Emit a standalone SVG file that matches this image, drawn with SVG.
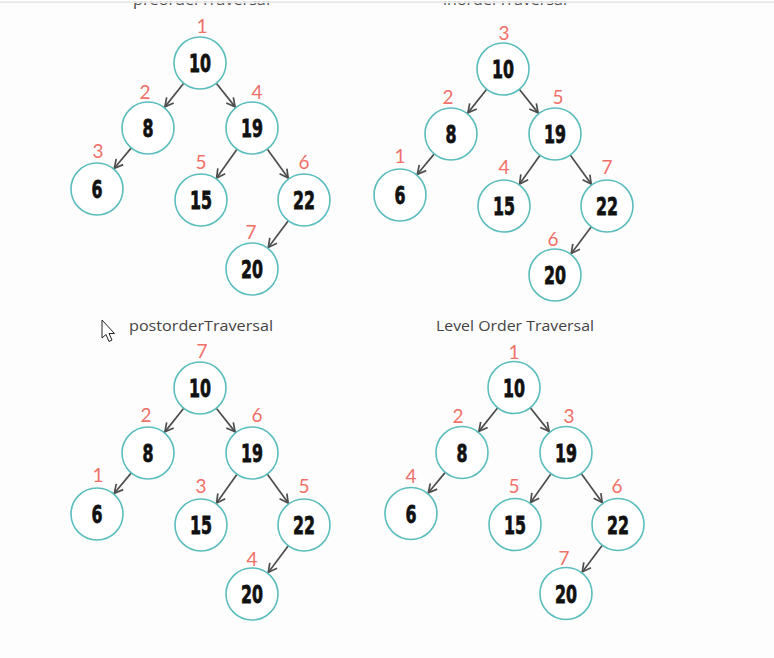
<svg xmlns="http://www.w3.org/2000/svg" width="774" height="658" viewBox="0 0 774 658">
<style>
.node circle{fill:#ffffff;stroke:#5bbdbd;stroke-width:1.6}
.val{font-family:"DejaVu Sans","Liberation Sans",sans-serif;font-weight:bold;font-size:24px;fill:#111;stroke:#111;stroke-width:0.8;text-anchor:middle}
.lbl{font-family:"Lato","Liberation Sans",sans-serif;font-size:19px;font-weight:normal;fill:#f07068;text-anchor:middle}
.edge{stroke:#4d4d4d;stroke-width:1.7;fill:none;marker-end:url(#ah)}
.title{font-family:"Open Sans","Liberation Sans",sans-serif;font-size:15px;fill:#444}
</style>
<defs>
<marker id="ah" viewBox="-10 -6 12 12" markerWidth="12" markerHeight="12" refX="0" refY="0" orient="auto" markerUnits="userSpaceOnUse">
<path d="M-8.5,-4.5 L0,0 L-8.5,4.5" stroke="#4d4d4d" stroke-width="1.7" fill="none"/>
</marker>
</defs>
<rect x="0" y="0" width="774" height="658" fill="#fdfdfd"/>
<text class="title" x="133" y="5" textLength="137" lengthAdjust="spacingAndGlyphs">preorderTraversal</text>
<text class="title" x="443" y="5" textLength="124" lengthAdjust="spacingAndGlyphs">inorderTraversal</text>
<rect x="0" y="0" width="774" height="1.2" fill="#ffffff"/>
<rect x="0" y="1.2" width="774" height="2" fill="#e9e9e9"/>

<!-- preorder -->
<g id="preorder">
<g id="pre-connectors">
<line class="edge" x1="183.7" y1="83.3" x2="164.9" y2="106.9"/>
<line class="edge" x1="216.3" y1="83.3" x2="235.1" y2="106.9"/>
<line class="edge" x1="131.3" y1="147.9" x2="114.3" y2="168.3"/>
<line class="edge" x1="237.0" y1="149.2" x2="216.6" y2="178.0"/>
<line class="edge" x1="267.2" y1="149.1" x2="288.2" y2="178.1"/>
<line class="edge" x1="288.3" y1="220.8" x2="268.3" y2="247.4"/>
</g>
<g id="pre-n10" class="node"><circle cx="200" cy="63" r="26"/><text class="val" x="200" y="72" textLength="22" lengthAdjust="spacingAndGlyphs">10</text><text class="lbl" x="202" y="33">1</text></g>
<g id="pre-n8" class="node"><circle cx="148" cy="128" r="26"/><text class="val" x="148" y="137" textLength="11" lengthAdjust="spacingAndGlyphs">8</text><text class="lbl" x="145" y="99">2</text></g>
<g id="pre-n19" class="node"><circle cx="252" cy="128" r="26"/><text class="val" x="252" y="137" textLength="22" lengthAdjust="spacingAndGlyphs">19</text><text class="lbl" x="257" y="99">4</text></g>
<g id="pre-n6" class="node"><circle cx="97" cy="189" r="26"/><text class="val" x="97" y="198" textLength="11" lengthAdjust="spacingAndGlyphs">6</text><text class="lbl" x="98" y="158">3</text></g>
<g id="pre-n15" class="node"><circle cx="201" cy="200" r="26"/><text class="val" x="201" y="209" textLength="22" lengthAdjust="spacingAndGlyphs">15</text><text class="lbl" x="201" y="169">5</text></g>
<g id="pre-n22" class="node"><circle cx="304" cy="200" r="26"/><text class="val" x="304" y="209" textLength="22" lengthAdjust="spacingAndGlyphs">22</text><text class="lbl" x="304" y="169">6</text></g>
<g id="pre-n20" class="node"><circle cx="252" cy="269" r="26"/><text class="val" x="252" y="278" textLength="22" lengthAdjust="spacingAndGlyphs">20</text><text class="lbl" x="251" y="239">7</text></g>
</g>

<!-- inorder -->
<g id="inorder" transform="translate(303,6)">
<g id="in-connectors">
<line class="edge" x1="183.7" y1="83.3" x2="164.9" y2="106.9"/>
<line class="edge" x1="216.3" y1="83.3" x2="235.1" y2="106.9"/>
<line class="edge" x1="131.3" y1="147.9" x2="114.3" y2="168.3"/>
<line class="edge" x1="237.0" y1="149.2" x2="216.6" y2="178.0"/>
<line class="edge" x1="267.2" y1="149.1" x2="288.2" y2="178.1"/>
<line class="edge" x1="288.3" y1="220.8" x2="268.3" y2="247.4"/>
</g>
<g id="in-n10" class="node"><circle cx="200" cy="63" r="26"/><text class="val" x="200" y="72" textLength="22" lengthAdjust="spacingAndGlyphs">10</text><text class="lbl" x="201" y="34">3</text></g>
<g id="in-n8" class="node"><circle cx="148" cy="128" r="26"/><text class="val" x="148" y="137" textLength="11" lengthAdjust="spacingAndGlyphs">8</text><text class="lbl" x="145" y="98">2</text></g>
<g id="in-n19" class="node"><circle cx="252" cy="128" r="26"/><text class="val" x="252" y="137" textLength="22" lengthAdjust="spacingAndGlyphs">19</text><text class="lbl" x="255" y="98">5</text></g>
<g id="in-n6" class="node"><circle cx="97" cy="189" r="26"/><text class="val" x="97" y="198" textLength="11" lengthAdjust="spacingAndGlyphs">6</text><text class="lbl" x="97" y="157">1</text></g>
<g id="in-n15" class="node"><circle cx="201" cy="200" r="26"/><text class="val" x="201" y="209" textLength="22" lengthAdjust="spacingAndGlyphs">15</text><text class="lbl" x="201" y="168">4</text></g>
<g id="in-n22" class="node"><circle cx="304" cy="200" r="26"/><text class="val" x="304" y="209" textLength="22" lengthAdjust="spacingAndGlyphs">22</text><text class="lbl" x="304" y="168">7</text></g>
<g id="in-n20" class="node"><circle cx="252" cy="269" r="26"/><text class="val" x="252" y="278" textLength="22" lengthAdjust="spacingAndGlyphs">20</text><text class="lbl" x="250" y="240">6</text></g>
</g>

<!-- postorder -->
<text class="title" x="129" y="331" textLength="144" lengthAdjust="spacingAndGlyphs">postorderTraversal</text>
<g id="postorder" transform="translate(0,325)">
<g id="post-connectors">
<line class="edge" x1="183.7" y1="83.3" x2="164.9" y2="106.9"/>
<line class="edge" x1="216.3" y1="83.3" x2="235.1" y2="106.9"/>
<line class="edge" x1="131.3" y1="147.9" x2="114.3" y2="168.3"/>
<line class="edge" x1="237.0" y1="149.2" x2="216.6" y2="178.0"/>
<line class="edge" x1="267.2" y1="149.1" x2="288.2" y2="178.1"/>
<line class="edge" x1="288.3" y1="220.8" x2="268.3" y2="247.4"/>
</g>
<g id="post-n10" class="node"><circle cx="200" cy="63" r="26"/><text class="val" x="200" y="72" textLength="22" lengthAdjust="spacingAndGlyphs">10</text><text class="lbl" x="202" y="33">7</text></g>
<g id="post-n8" class="node"><circle cx="148" cy="128" r="26"/><text class="val" x="148" y="137" textLength="11" lengthAdjust="spacingAndGlyphs">8</text><text class="lbl" x="146" y="97">2</text></g>
<g id="post-n19" class="node"><circle cx="252" cy="128" r="26"/><text class="val" x="252" y="137" textLength="22" lengthAdjust="spacingAndGlyphs">19</text><text class="lbl" x="257" y="97">6</text></g>
<g id="post-n6" class="node"><circle cx="97" cy="189" r="26"/><text class="val" x="97" y="198" textLength="11" lengthAdjust="spacingAndGlyphs">6</text><text class="lbl" x="98" y="157">1</text></g>
<g id="post-n15" class="node"><circle cx="201" cy="200" r="26"/><text class="val" x="201" y="209" textLength="22" lengthAdjust="spacingAndGlyphs">15</text><text class="lbl" x="201" y="168">3</text></g>
<g id="post-n22" class="node"><circle cx="304" cy="200" r="26"/><text class="val" x="304" y="209" textLength="22" lengthAdjust="spacingAndGlyphs">22</text><text class="lbl" x="304" y="168">5</text></g>
<g id="post-n20" class="node"><circle cx="252" cy="269" r="26"/><text class="val" x="252" y="278" textLength="22" lengthAdjust="spacingAndGlyphs">20</text><text class="lbl" x="252" y="241">4</text></g>
</g>

<!-- level order -->
<text class="title" x="515" y="331" text-anchor="middle" textLength="158" lengthAdjust="spacingAndGlyphs">Level Order Traversal</text>
<g id="levelorder" transform="translate(314,324.5)">
<g id="level-connectors">
<line class="edge" x1="183.7" y1="83.3" x2="164.9" y2="106.9"/>
<line class="edge" x1="216.3" y1="83.3" x2="235.1" y2="106.9"/>
<line class="edge" x1="131.3" y1="147.9" x2="114.3" y2="168.3"/>
<line class="edge" x1="237.0" y1="149.2" x2="216.6" y2="178.0"/>
<line class="edge" x1="267.2" y1="149.1" x2="288.2" y2="178.1"/>
<line class="edge" x1="288.3" y1="220.8" x2="268.3" y2="247.4"/>
</g>
<g id="level-n10" class="node"><circle cx="200" cy="63" r="26"/><text class="val" x="200" y="72" textLength="22" lengthAdjust="spacingAndGlyphs">10</text><text class="lbl" x="200" y="34">1</text></g>
<g id="level-n8" class="node"><circle cx="148" cy="128" r="26"/><text class="val" x="148" y="137" textLength="11" lengthAdjust="spacingAndGlyphs">8</text><text class="lbl" x="144" y="98">2</text></g>
<g id="level-n19" class="node"><circle cx="252" cy="128" r="26"/><text class="val" x="252" y="137" textLength="22" lengthAdjust="spacingAndGlyphs">19</text><text class="lbl" x="255" y="98">3</text></g>
<g id="level-n6" class="node"><circle cx="97" cy="189" r="26"/><text class="val" x="97" y="198" textLength="11" lengthAdjust="spacingAndGlyphs">6</text><text class="lbl" x="97" y="158">4</text></g>
<g id="level-n15" class="node"><circle cx="201" cy="200" r="26"/><text class="val" x="201" y="209" textLength="22" lengthAdjust="spacingAndGlyphs">15</text><text class="lbl" x="200" y="168">5</text></g>
<g id="level-n22" class="node"><circle cx="304" cy="200" r="26"/><text class="val" x="304" y="209" textLength="22" lengthAdjust="spacingAndGlyphs">22</text><text class="lbl" x="303" y="168">6</text></g>
<g id="level-n20" class="node"><circle cx="252" cy="269" r="26"/><text class="val" x="252" y="278" textLength="22" lengthAdjust="spacingAndGlyphs">20</text><text class="lbl" x="250" y="240">7</text></g>
</g>

<!-- mouse cursor -->
<path d="M102,320 L102,338 L106,334.5 L109,341.5 L112,340 L109,333.5 L114.5,333.5 Z" fill="#ffffff" stroke="#222" stroke-width="1" stroke-linejoin="round"/>
</svg>
